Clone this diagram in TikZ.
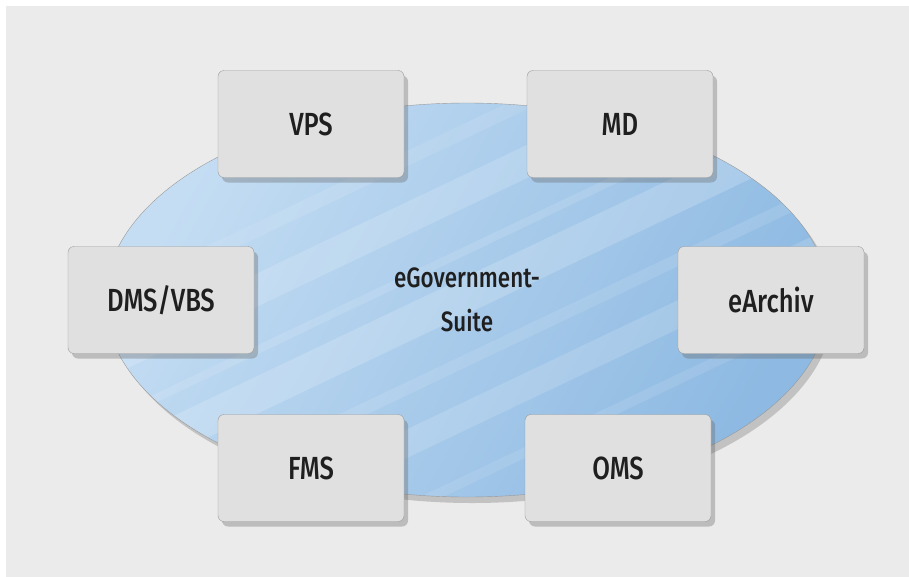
\documentclass[tikz,border=0pt]{standalone}
\usepackage{fontspec}
\setmainfont{Fira Sans Medium}[FakeStretch=0.8]
\usetikzlibrary{shapes.geometric,shadows}
\definecolor{hintergrund}{HTML}{EBEBEB}
\definecolor{kasten}{HTML}{E0E0E0}
\definecolor{rand}{HTML}{9A9A9A}
\definecolor{blauhell}{HTML}{C4DDF3}
\definecolor{blaudunkel}{HTML}{8DB9E2}

\tikzset{
  modul/.style={draw=rand, fill=kasten, rounded corners=6pt,
    minimum width=186pt, minimum height=107pt, text=black!88,
    font=\fontsize{32}{38}\selectfont,
    drop shadow={shadow xshift=4pt, shadow yshift=-5pt, opacity=0.35, fill=black!60}},
  suite/.style={ellipse, draw=rand, minimum width=724pt, minimum height=394pt,
    inner sep=0pt, align=center, text=black!88, font=\fontsize{28}{44}\selectfont,
    left color=blauhell, right color=blaudunkel, shading angle=60,
    drop shadow={shadow xshift=5pt, shadow yshift=-6pt, opacity=0.3, fill=black!60}},
}

\begin{document}
\begin{tikzpicture}[x=1pt,y=-1pt]
\useasboundingbox (0,0) rectangle (909,576);
\fill[white] (0,0) rectangle (909,576);
\fill[hintergrund] (6,6) rectangle (925,590);

% Suite in der Mitte
\node[suite, path picture={
  \foreach \dy/\w/\o in {-170/14/0.10,-110/30/0.16,-50/8/0.12,-5/34/0.18,60/12/0.11,115/26/0.15,180/10/0.10}
    \draw[white, opacity=\o, line width=\w pt]
      ([shift={(-420,\dy+200)}]path picture bounding box.center) -- ++(840,-400);
}] (suite) at (467,300) {eGovernment-\\Suite};

% Module
\node[modul] (vps) at (311,124) {VPS};
\node[modul] (md) at (620,124) {MD};
\node[modul] (dms) at (161,300) {DMS/VBS};
\node[modul] (earchiv) at (771,300) {eArchiv};
\node[modul] (fms) at (311,468) {FMS};
\node[modul] (oms) at (618,468) {OMS};
\end{tikzpicture}
\end{document}
